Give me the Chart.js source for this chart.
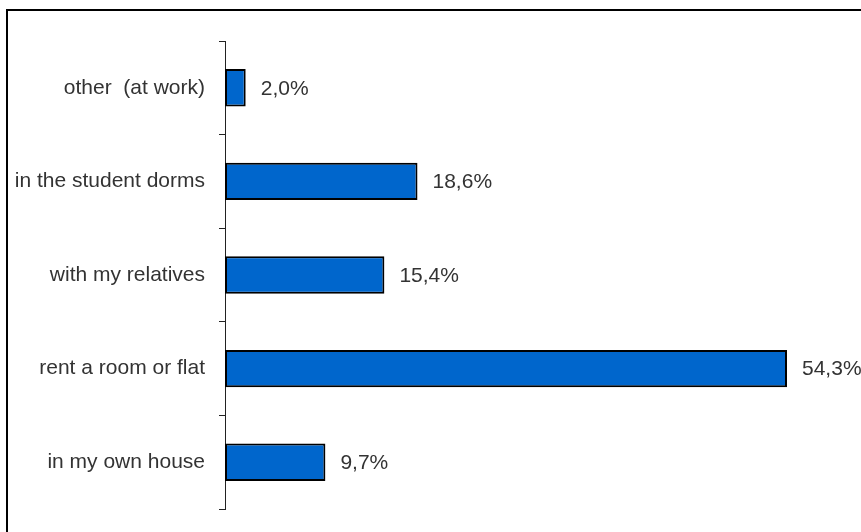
<!DOCTYPE html>
<html>
<head>
<meta charset="utf-8">
<script src="https://cdn.jsdelivr.net/npm/chart.js@4"></script>
<style>
  html, body { margin: 0; padding: 0; background: #fff; }
  #wrap { width: 861px; height: 532px; position: relative; }
</style>
</head>
<body>
<div id="wrap"><canvas id="chart"></canvas></div>
<script>
const categories = ["other  (at work)", "in the student dorms", "with my relatives", "rent a room or flat", "in my own house"];
const shares = [2.0, 18.6, 15.4, 54.3, 9.7];

// frame in the top-left corner of the picture
const framePlugin = {
  id: "frame",
  beforeDraw(chart) {
    const ctx = chart.ctx;
    ctx.save();
    ctx.strokeStyle = "#000";
    ctx.lineWidth = 2;
    ctx.beginPath();
    ctx.moveTo(7, 540);
    ctx.lineTo(7, 10);
    ctx.lineTo(870, 10);
    ctx.stroke();
    ctx.restore();
  },
};

// value text right of each bar
const valueLabels = {
  id: "valueLabels",
  afterDatasetsDraw(chart) {
    const ctx = chart.ctx;
    const meta = chart.getDatasetMeta(0);
    ctx.save();
    ctx.font = "21px 'Liberation Sans', Arial, sans-serif";
    ctx.fillStyle = "#333";
    ctx.textAlign = "left";
    ctx.textBaseline = "middle";
    meta.data.forEach((bar, i) => {
      const txt = shares[i].toFixed(1).replace(".", ",") + "%";
      ctx.fillText(txt, bar.x + 15, bar.y + 1);
    });
    ctx.restore();
  },
};

new Chart(document.getElementById("chart"), {
  type: "bar",
  data: {
    labels: categories,
    datasets: [
      {
        data: shares,
        backgroundColor: "#0066CC",
        borderColor: "#000",
        borderWidth: 2,
        borderSkipped: false,
        categoryPercentage: 1,
        barPercentage: 0.4,
      },
    ],
  },
  options: {
    indexAxis: "y",
    responsive: true,
    maintainAspectRatio: false,
    animation: false,
    layout: { padding: { left: 0, top: 41, bottom: 23, right: 15 } },
    plugins: { legend: { display: false }, tooltip: { enabled: false } },
    scales: {
      x: { display: false, min: 0, max: 60 },
      y: {
        afterFit(scale) {
          scale.width = 225;
          scale.paddingTop = 0;
          scale.paddingBottom = 0;
        },
        border: { display: true, color: "#222", width: 1 },
        grid: { drawOnChartArea: false, tickLength: 6, tickColor: "#222", offset: true },
        ticks: {
          color: "#333",
          padding: 14,
          font: { family: "'Liberation Sans', Arial, sans-serif", size: 21 },
        },
      },
    },
  },
  plugins: [framePlugin, valueLabels],
});
</script>
</body>
</html>
